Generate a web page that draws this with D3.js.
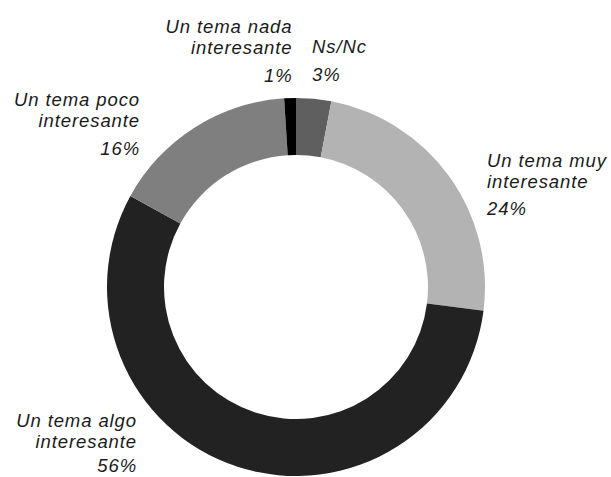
<!DOCTYPE html>
<html>
<head>
<meta charset="utf-8">
<script src="https://cdn.jsdelivr.net/npm/d3@7"></script>
<style>
  html, body { margin: 0; padding: 0; background: #fff; }
  svg { display: block; }
  .label { font-family: 'Liberation Sans', Arial, sans-serif; font-style: italic; font-size: 18.5px; fill: #1a1a1a; letter-spacing: 0.9px; }
</style>
</head>
<body>
<div id="chart"></div>
<script>
const categories = ['Ns/Nc', 'Un tema muy interesante', 'Un tema algo interesante', 'Un tema poco interesante', 'Un tema nada interesante'];
const values = [3, 24, 56, 16, 1];
const labelLines = [
  ['Ns/Nc'],
  ['Un tema muy', 'interesante'],
  ['Un tema algo', 'interesante'],
  ['Un tema poco', 'interesante'],
  ['Un tema nada', 'interesante'],
];
const colors = ['#5f5f5f', '#b3b3b3', '#222222', '#7f7f7f', '#000000'];

// where each label block sits: x, first baseline, anchor, baseline of the %
const labelPos = [
  { x: 312, y: 52.5, anchor: 'start', pctY: 81 },
  { x: 487, y: 166.5, anchor: 'start', pctY: 215 },
  { x: 137, y: 427, anchor: 'end', pctY: 472 },
  { x: 140, y: 105.5, anchor: 'end', pctY: 155 },
  { x: 292.5, y: 32.5, anchor: 'end', pctY: 81.5 },
];

const width = 611;
const height = 477;
const cx = 296;
const cy = 287;
const outerR = 189;
const innerR = 132;

const svg = d3.select('#chart')
  .append('svg')
  .attr('width', width)
  .attr('height', height);

const data = categories.map((c, i) => ({ name: c, value: values[i], i }));

const pie = d3.pie().sort(null).value((d) => d.value).startAngle(0).endAngle(2 * Math.PI);
const arc = d3.arc().innerRadius(innerR).outerRadius(outerR);

svg.append('g')
  .attr('transform', `translate(${cx}, ${cy})`)
  .selectAll('path')
  .data(pie(data))
  .join('path')
  .attr('d', arc)
  .attr('fill', (d) => colors[d.data.i]);

const labels = svg.append('g')
  .selectAll('g')
  .data(data)
  .join('g');

labels.each(function (d) {
  const g = d3.select(this);
  const p = labelPos[d.i];
  labelLines[d.i].forEach((line, j) => {
    g.append('text')
      .attr('class', 'label')
      .attr('x', p.x)
      .attr('y', p.y + j * 21)
      .attr('text-anchor', p.anchor)
      .text(line);
  });
  g.append('text')
    .attr('class', 'label')
    .attr('x', p.x)
    .attr('y', p.pctY)
    .attr('text-anchor', p.anchor)
    .text(`${d.value}%`);
});
</script>
</body>
</html>
